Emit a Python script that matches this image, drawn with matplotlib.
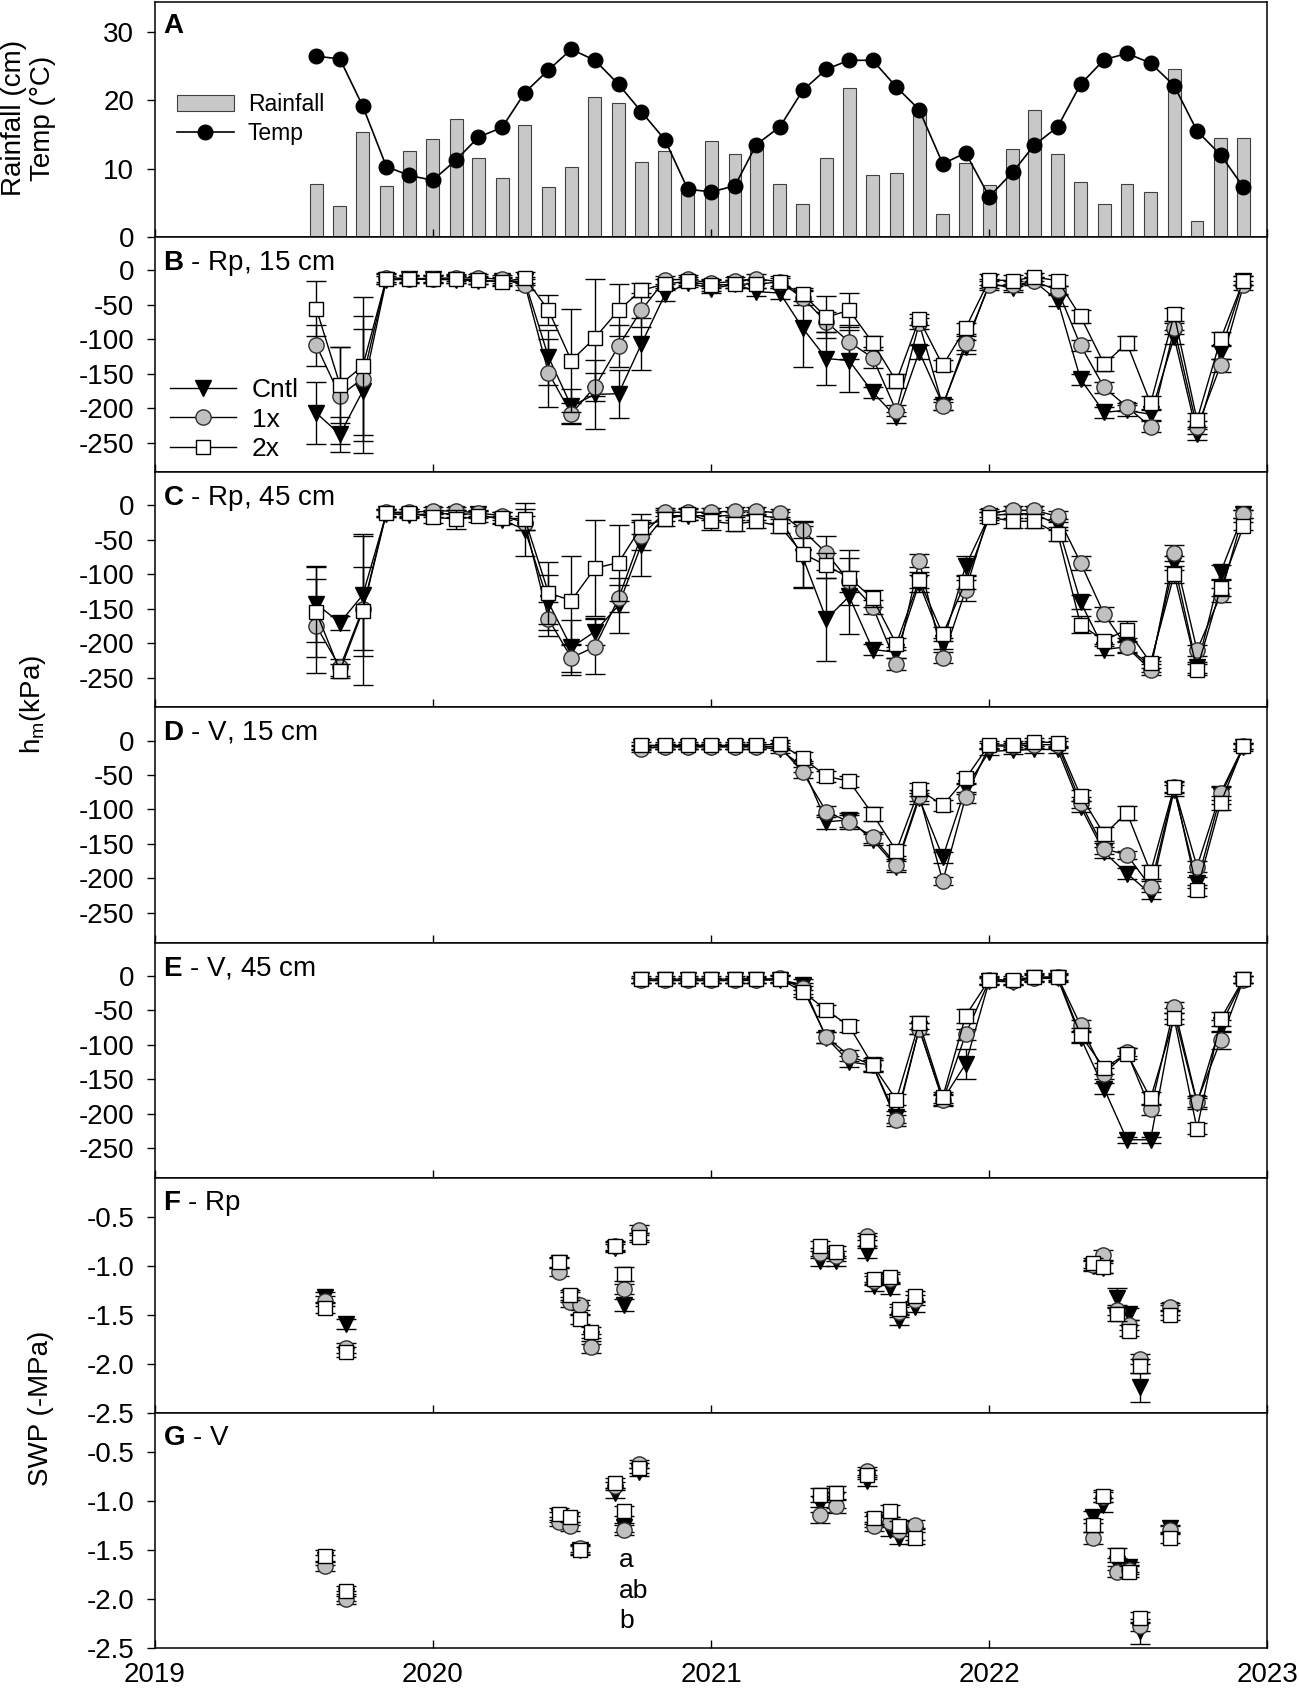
import numpy as np
import pandas as pd
import matplotlib
matplotlib.use("Agg")
import matplotlib.pyplot as plt
from matplotlib.dates import date2num

plt.rcParams['font.family'] = ['Liberation Sans', 'DejaVu Sans']
plt.rcParams['mathtext.fontset'] = 'custom'
plt.rcParams['mathtext.rm'] = 'Liberation Sans'
plt.rcParams['mathtext.bf'] = 'Liberation Sans:bold'
plt.rcParams['axes.unicode_minus'] = False

# ---------------- data ----------------
months_A = pd.date_range('2019-08-01', '2022-12-01', freq='MS')
rainfall = [7.7, 4.6, 15.3, 7.5, 12.5, 14.3, 17.3, 11.5, 8.7, 16.4, 7.3, 10.3, 20.4, 19.5,
            11.0, 12.6, 7.3, 14.0, 12.1, 13.4, 7.8, 4.8, 11.5, 21.8, 9.0, 9.3, 18.3, 3.4,
            10.8, 7.6, 12.8, 18.5, 12.1, 8.1, 4.8, 7.8, 6.6, 24.5, 2.3, 14.5, 14.4]
temp = [26.4, 26.0, 19.1, 10.3, 9.0, 8.3, 11.3, 14.6, 16.0, 21.1, 24.4, 27.4, 25.8, 22.3,
        18.3, 14.2, 7.0, 6.6, 7.5, 13.5, 16.1, 21.4, 24.5, 25.8, 25.8, 21.9, 18.6, 10.7,
        12.3, 5.9, 9.5, 13.4, 16.1, 22.3, 25.9, 26.8, 25.4, 22.1, 15.5, 12.0, 7.3]

months_BC = pd.date_range('2019-08-01', '2022-12-01', freq='MS')
B_cntl = [-207, -238, -175, -14, -13, -13, -14, -15, -16, -16, -126, -197, -180, -179, -107,
          -35, -18, -27, -20, -31, -33, -84, -128, -131, -177, -213, -118, -195, -111, -19,
          -26, -16, -44, -158, -206, -203, -209, -97, -238, -118, -15]
B_1x = [-109, -182, -157, -11, -12, -12, -11, -11, -13, -21, -149, -208, -169, -110, -58,
        -14, -13, -19, -16, -12, -17, -40, -75, -104, -127, -204, -77, -197, -105, -22,
        -22, -16, -29, -109, -170, -198, -227, -84, -228, -138, -22]
B_2x = [-56, -166, -139, -12, -13, -13, -13, -14, -17, -11, -58, -131, -98, -58, -29,
        -20, -16, -22, -20, -20, -17, -35, -68, -58, -105, -161, -71, -138, -84, -14,
        -15, -10, -15, -67, -136, -106, -193, -64, -217, -100, -15]
B_cntl_err = [45, 25, 90, 6, 5, 5, 5, 5, 6, 6, 40, 25, 50, 35, 38, 10, 6, 6, 6, 6, 8, 56, 38,
              45, 8, 8, 10, 8, 10, 6, 6, 6, 8, 8, 8, 8, 8, 10, 8, 10, 6]
B_1x_err = [30, 70, 90, 6, 5, 5, 5, 5, 6, 8, 50, 15, 20, 30, 25, 6, 6, 6, 6, 6, 6, 10, 15,
            25, 15, 8, 8, 6, 10, 6, 6, 6, 6, 8, 8, 6, 8, 8, 10, 10, 6]
B_2x_err = [40, 55, 100, 8, 6, 6, 6, 6, 6, 8, 22, 75, 85, 38, 10, 8, 6, 8, 6, 6, 8, 10, 30,
            25, 10, 10, 8, 8, 8, 8, 8, 6, 8, 10, 10, 10, 10, 10, 10, 10, 6]

C_cntl = [-143, -170, -130, -12, -14, -12, -12, -13, -21, -35, -141, -206, -183, -145, -57,
          -15, -15, -15, -15, -15, -18, -75, -165, -132, -209, -213, -113, -200, -88, -15,
          -12, -12, -28, -140, -209, -205, -233, -84, -235, -97, -12]
C_1x = [-175, -235, -150, -10, -10, -8, -8, -11, -15, -25, -165, -221, -205, -135, -44,
        -10, -10, -10, -8, -8, -11, -36, -69, -110, -147, -230, -80, -221, -123, -11,
        -7, -7, -16, -83, -158, -206, -238, -69, -210, -130, -12]
C_2x = [-155, -240, -153, -11, -11, -17, -20, -16, -18, -20, -127, -138, -91, -83, -31,
        -20, -13, -23, -27, -23, -30, -70, -87, -105, -135, -201, -108, -187, -111, -17,
        -23, -23, -41, -173, -196, -180, -228, -100, -238, -120, -30]
C_cntl_err = [55, 10, 88, 5, 5, 5, 5, 5, 6, 38, 40, 40, 20, 40, 45, 8, 6, 6, 6, 6, 8, 45, 60,
              55, 8, 8, 12, 8, 15, 6, 6, 6, 8, 10, 8, 8, 8, 10, 8, 10, 6]
C_1x_err = [68, 12, 60, 5, 5, 5, 5, 5, 6, 10, 25, 20, 40, 20, 20, 6, 6, 6, 6, 6, 6, 12, 25,
            15, 10, 8, 10, 8, 15, 6, 6, 6, 8, 10, 10, 8, 8, 12, 8, 10, 6]
C_2x_err = [65, 10, 108, 6, 6, 8, 14, 8, 8, 15, 45, 65, 70, 55, 10, 10, 8, 12, 10, 10, 10, 48,
            18, 40, 12, 8, 12, 10, 10, 8, 10, 10, 10, 12, 8, 12, 8, 12, 8, 12, 6]

months_DE = pd.date_range('2020-10-01', '2022-12-01', freq='MS')
D_cntl = [-10, -9, -9, -9, -9, -9, -13, -38, -118, -115, -144, -183, -84, -169, -69, -16, -14,
          -13, -13, -96, -162, -193, -222, -72, -206, -80, -10]
D_1x = [-12, -9, -9, -9, -9, -9, -9, -46, -103, -118, -140, -180, -80, -204, -82, -8, -8, -6,
        -6, -90, -157, -166, -212, -68, -183, -76, -8]
D_2x = [-7, -7, -7, -7, -7, -7, -5, -25, -52, -59, -107, -160, -71, -94, -55, -6, -7, -2, -3,
        -80, -136, -105, -191, -67, -217, -91, -8]
D_cntl_err = [4, 4, 4, 4, 4, 4, 5, 8, 10, 10, 8, 8, 8, 8, 8, 5, 5, 5, 5, 8, 8, 8, 8, 8, 8, 12, 5]
D_1x_err = [4, 4, 4, 4, 4, 4, 5, 8, 8, 10, 8, 8, 8, 6, 8, 5, 5, 5, 5, 8, 8, 6, 8, 8, 8, 10, 5]
D_2x_err = [5, 5, 5, 5, 5, 5, 6, 8, 8, 8, 10, 8, 10, 8, 8, 6, 6, 6, 6, 8, 10, 10, 10, 8, 8, 10, 5]

E_cntl = [-7, -7, -7, -7, -7, -7, -6, -13, -90, -125, -130, -205, -77, -180, -128, -8, -9, -4,
          -4, -90, -164, -238, -238, -55, -185, -72, -6]
E_1x = [-7, -7, -7, -7, -7, -6, -4, -18, -89, -116, -130, -210, -77, -181, -85, -7, -8, -3,
        -2, -72, -142, -111, -194, -46, -183, -94, -6]
E_2x = [-5, -5, -5, -5, -5, -5, -5, -23, -50, -73, -130, -180, -68, -176, -58, -6, -6, -2, -2,
        -86, -134, -113, -178, -62, -222, -63, -5]
E_cntl_err = [4, 4, 4, 4, 4, 4, 5, 8, 8, 8, 8, 8, 8, 8, 22, 5, 5, 5, 5, 8, 8, 4, 4, 8, 8, 8, 5]
E_1x_err = [4, 4, 4, 4, 4, 4, 5, 8, 8, 8, 8, 8, 8, 8, 8, 5, 5, 5, 5, 8, 8, 6, 8, 8, 8, 12, 5]
E_2x_err = [5, 5, 5, 5, 5, 5, 6, 8, 8, 8, 10, 8, 10, 8, 10, 6, 6, 6, 6, 10, 8, 8, 10, 8, 8, 10, 5]

swp_dates = pd.to_datetime(['2019-08-13', '2019-09-09', '2020-06-15', '2020-06-29', '2020-07-13',
                            '2020-07-27', '2020-08-27', '2020-09-08', '2020-09-28', '2021-05-24',
                            '2021-06-14', '2021-07-25', '2021-08-03', '2021-08-23', '2021-09-05',
                            '2021-09-26', '2022-05-17', '2022-05-31', '2022-06-18', '2022-07-04',
                            '2022-07-18', '2022-08-27'])
nan = np.nan
F_cntl = [-1.32, -1.59, -0.97, -1.32, -1.45, -1.75, -0.82, -1.40, -0.70, -0.95, -0.95, -0.87,
          -1.21, -1.23, -1.55, -1.42, -1.00, -1.02, -1.33, -1.49, -2.24, -1.45]
F_1x = [-1.36, -1.84, -1.06, -1.37, -1.40, -1.83, -0.80, -1.24, -0.63, -0.87, -0.90, -0.70,
        -1.15, -1.13, -1.47, -1.35, -0.99, -0.89, -1.45, -1.60, -1.95, -1.42]
F_2x = [-1.43, -1.88, -0.96, -1.30, -1.54, -1.68, -0.80, -1.08, -0.71, -0.80, -0.86, -0.75,
        -1.13, -1.11, -1.44, -1.31, -0.97, -1.01, -1.49, -1.66, -2.02, -1.50]
F_cntl_err = [0.05, 0.05, 0.05, 0.05, 0.05, 0.05, 0.04, 0.06, 0.04, 0.05, 0.05, 0.05, 0.05,
              0.06, 0.05, 0.05, 0.05, 0.05, 0.10, 0.06, 0.15, 0.05]
F_1x_err = [0.05, 0.05, 0.04, 0.05, 0.05, 0.06, 0.04, 0.05, 0.05, 0.05, 0.05, 0.04, 0.05,
            0.05, 0.05, 0.05, 0.05, 0.05, 0.05, 0.05, 0.05, 0.04]
F_2x_err = [0.05, 0.05, 0.05, 0.05, 0.05, 0.06, 0.05, 0.07, 0.05, 0.05, 0.06, 0.05, 0.06,
            0.05, 0.05, 0.05, 0.05, 0.06, 0.07, 0.06, 0.07, 0.05]

G_cntl = [-1.60, -1.97, -1.16, -1.20, -1.50, nan, -0.92, -1.27, -0.70, -1.03, -0.99, -0.80,
          -1.21, -1.30, -1.38, -1.34, -1.16, -1.04, -1.64, -1.67, -2.33, -1.28]
G_1x = [-1.66, -2.00, -1.21, -1.26, -1.48, nan, -0.85, -1.30, -0.62, -1.14, -1.05, -0.69,
        -1.26, -1.21, -1.31, -1.24, -1.38, -0.96, -1.72, -1.70, -2.28, -1.30]
G_2x = [-1.56, -1.92, -1.13, -1.16, -1.50, nan, -0.82, -1.10, -0.66, -0.94, -0.92, -0.73,
        -1.17, -1.10, -1.26, -1.38, -1.25, -0.95, -1.55, -1.72, -2.19, -1.38]
G_cntl_err = [0.05, 0.05, 0.05, 0.05, 0.04, nan, 0.05, 0.05, 0.04, 0.08, 0.08, 0.05, 0.06,
              0.06, 0.06, 0.06, 0.06, 0.07, 0.06, 0.05, 0.13, 0.04]
G_1x_err = [0.05, 0.05, 0.05, 0.05, 0.04, nan, 0.04, 0.05, 0.04, 0.08, 0.07, 0.04, 0.05,
            0.05, 0.05, 0.05, 0.06, 0.05, 0.06, 0.05, 0.05, 0.04]
G_2x_err = [0.06, 0.05, 0.06, 0.05, 0.05, nan, 0.05, 0.05, 0.05, 0.07, 0.07, 0.05, 0.06,
            0.06, 0.06, 0.06, 0.07, 0.06, 0.07, 0.06, 0.06, 0.05]

letters_G = ['a', 'ab', 'b']
letters_G_y = [-1.607, -1.916, -2.225]
letters_G_date = pd.Timestamp('2020-09-02')

series_names = ['Cntl', '1x', '2x']
year_ticks = pd.to_datetime(['2019-01-01', '2020-01-01', '2021-01-01', '2022-01-01', '2023-01-01'])
year_labels = ['2019', '2020', '2021', '2022', '2023']

# ---------------- style ----------------
GRAY = '#c0c0c0'
styles = [dict(marker='v', mfc='black', mec='black', ms=11),
          dict(marker='o', mfc=GRAY, mec='#303030', ms=11),
          dict(marker='s', mfc='white', mec='black', ms=9.5)]
FS_TICK = 20
FS_LAB = 20

fig = plt.figure(figsize=(12.99, 16.97), dpi=100)
gs = fig.add_gridspec(7, 1, hspace=0, left=0.1193, right=0.9754, top=0.9988, bottom=0.0289)
axes = [fig.add_subplot(gs[i]) for i in range(7)]

xlo, xhi = date2num(year_ticks[0]), date2num(year_ticks[-1])
for ax in axes:
    ax.set_xlim(xlo, xhi)
    ax.set_xticks([date2num(d) for d in year_ticks])
    ax.set_xticklabels([])
    ax.tick_params(axis='x', direction='in', length=6, width=1)
    ax.tick_params(axis='y', direction='out', length=6, width=1, labelsize=FS_TICK, pad=9)
    for s in ax.spines.values():
        s.set_linewidth(1.1)
axes[-1].set_xticklabels(year_labels, fontsize=FS_TICK)
axes[-1].tick_params(axis='x', pad=10)

def panel_label(ax, letter, rest, y=0.862):
    txt = r'$\mathbf{' + letter + '}$' + rest
    ax.text(0.0072, y, txt, transform=ax.transAxes, fontsize=FS_LAB, va='baseline', ha='left')

# Panel A
axA = axes[0]
bars = axA.bar(months_A, rainfall, width=17, color='#c8c8c8', edgecolor='#404040',
               linewidth=0.8, zorder=1)
tline, = axA.plot(months_A, temp, '-o', color='black', mfc='black', ms=10.5, lw=1.2, zorder=3)
axA.set_ylim(0, 34.3)
axA.set_yticks([0, 10, 20, 30])
panel_label(axA, 'A', '', y=0.868)
axA.legend([bars, tline], ['Rainfall', 'Temp'], loc='upper left', bbox_to_anchor=(0.0195, 0.615),
           frameon=False, fontsize=16.5, handlelength=2.5, handletextpad=0.6, labelspacing=0.3,
           borderaxespad=0, borderpad=0)

def plot_hm(ax, dates, vals, errs, connect=True):
    handles = []
    for k, (v, e) in enumerate(zip(vals, errs)):
        ax.errorbar(dates, v, yerr=e, fmt='none', ecolor='black', elinewidth=1,
                    capsize=7, capthick=1, zorder=2 + k)
        ls = '-' if connect else 'none'
        h, = ax.plot(dates, v, linestyle=ls, color='black', lw=1, zorder=2.5 + k, **styles[k])
        handles.append(h)
    return handles

hm_panels = [
    (axes[1], months_BC, [B_cntl, B_1x, B_2x], [B_cntl_err, B_1x_err, B_2x_err], 'B', ' - Rp, 15 cm'),
    (axes[2], months_BC, [C_cntl, C_1x, C_2x], [C_cntl_err, C_1x_err, C_2x_err], 'C', ' - Rp, 45 cm'),
    (axes[3], months_DE, [D_cntl, D_1x, D_2x], [D_cntl_err, D_1x_err, D_2x_err], 'D', ' - V, 15 cm'),
    (axes[4], months_DE, [E_cntl, E_1x, E_2x], [E_cntl_err, E_1x_err, E_2x_err], 'E', ' - V, 45 cm'),
]
for ax, dts, vals, errs, L, rest in hm_panels:
    hs = plot_hm(ax, dts, vals, errs)
    ax.set_ylim(-293, 48)
    ax.set_yticks([0, -50, -100, -150, -200, -250])
    panel_label(ax, L, rest)
    if L == 'B':
        ax.legend(hs, series_names, loc='upper left', bbox_to_anchor=(0.0135, 0.40),
                  frameon=False, fontsize=19, handlelength=2.5, handletextpad=0.6,
                  labelspacing=0.2, borderaxespad=0, borderpad=0)

swp_panels = [
    (axes[5], [F_cntl, F_1x, F_2x], [F_cntl_err, F_1x_err, F_2x_err], 'F', ' - Rp'),
    (axes[6], [G_cntl, G_1x, G_2x], [G_cntl_err, G_1x_err, G_2x_err], 'G', ' - V'),
]
for ax, vals, errs, L, rest in swp_panels:
    plot_hm(ax, swp_dates, vals, errs, connect=False)
    ax.set_ylim(-2.5, -0.1)
    ax.set_yticks([-0.5, -1.0, -1.5, -2.0, -2.5])
    ax.set_yticklabels(['-0.5', '-1.0', '-1.5', '-2.0', '-2.5'])
    panel_label(ax, L, rest)

for lab, yv in zip(letters_G, letters_G_y):
    axes[6].text(letters_G_date, yv, lab, fontsize=19, ha='left', va='center')

# y labels
H = 1697.0
fig.text(29 / 1299, 1 - 118 / H, 'Rainfall (cm)\nTemp (°C)', rotation=90, ha='center',
         va='center', fontsize=FS_LAB, linespacing=1.15)
fig.text(33 / 1299, 1 - 704 / H, r'h$_\mathregular{m}$(kPa)', rotation=90, ha='center',
         va='center', fontsize=FS_LAB)
fig.text(41 / 1299, 1 - 1408 / H, 'SWP (-MPa)', rotation=90, ha='center', va='center',
         fontsize=FS_LAB)

fig.savefig('out.png', dpi=100)
